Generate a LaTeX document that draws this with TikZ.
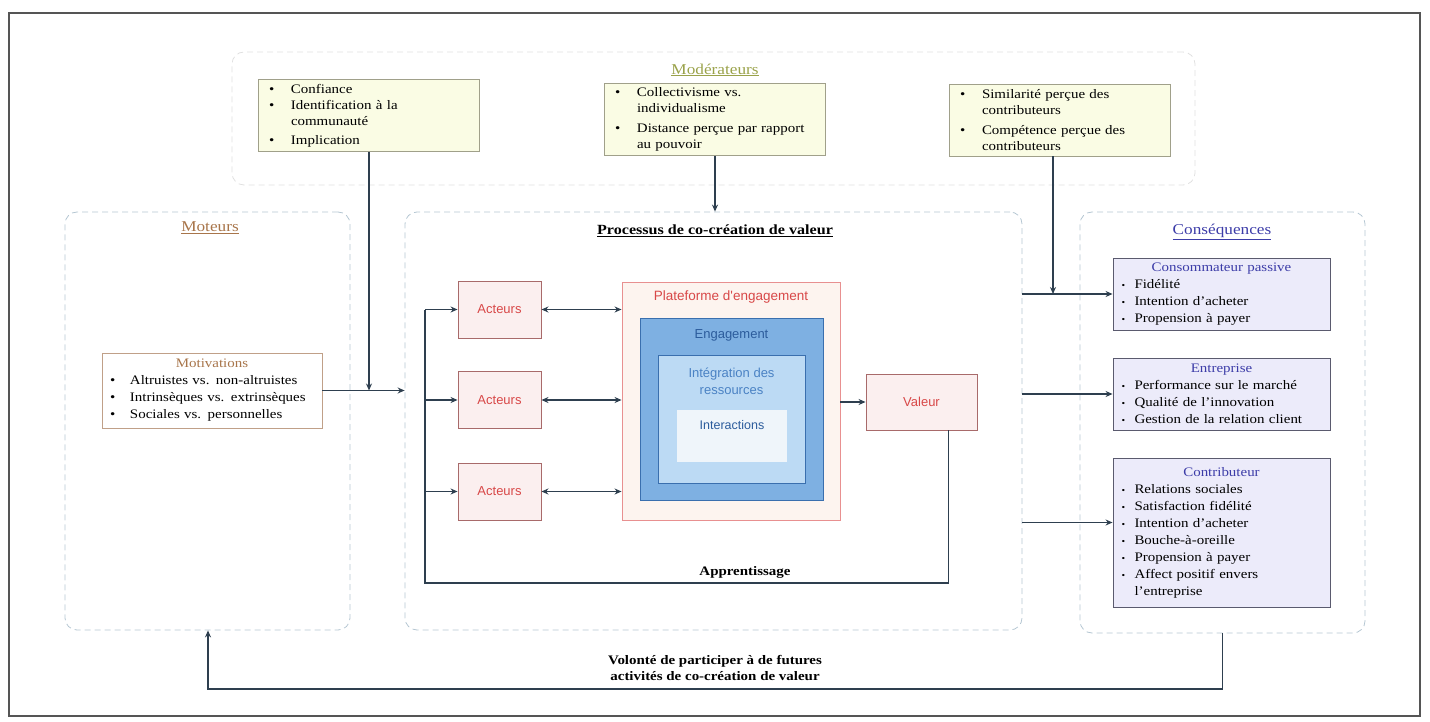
\documentclass[tikz,border=0pt]{standalone}
\usepackage{fontspec}
\setmainfont{Liberation Serif}[FakeStretch=1.15]
\newfontfamily\arialf{Liberation Sans}
\usetikzlibrary{arrows.meta,positioning}

\definecolor{framec}{HTML}{555555}
\definecolor{linkc}{HTML}{2E3F4F}
\definecolor{grpc}{HTML}{B4C6D2}
\definecolor{topgrpc}{HTML}{E0E0E0}
\definecolor{modfill}{HTML}{FAFCE4}
\definecolor{modline}{HTML}{A0A08A}
\definecolor{modtitle}{HTML}{9AA24A}
\definecolor{motc}{HTML}{A8754A}
\definecolor{motline}{HTML}{C0A088}
\definecolor{consc}{HTML}{3C3CA8}
\definecolor{consfill}{HTML}{ECEBFA}
\definecolor{consline}{HTML}{5A5A6E}
\definecolor{actfill}{HTML}{FBEFEF}
\definecolor{actline}{HTML}{A86A6A}
\definecolor{actc}{HTML}{D84848}
\definecolor{platfill}{HTML}{FDF4EF}
\definecolor{platline}{HTML}{E89090}
\definecolor{engfill}{HTML}{7EB0E2}
\definecolor{engline}{HTML}{3A6FAE}
\definecolor{engc}{HTML}{2C5C9C}
\definecolor{intfill}{HTML}{BCDAF4}
\definecolor{intc}{HTML}{4A82C4}
\definecolor{interfill}{HTML}{EFF5FA}

\newcommand{\blt}[1][22pt]{\makebox[#1][l]{\textbullet}}
\newcommand{\sblt}{\makebox[13pt][l]{\small\textbullet}}

\begin{document}
\begin{tikzpicture}[x=1pt,y=-1pt,
    grp/.style={draw=grpc,dash pattern=on 6pt off 4pt,rounded corners=12pt,line width=0.8pt},
    box/.style={inner sep=0pt,line width=0.9pt},
    modbox/.style={box,draw=modline,fill=modfill,minimum width=221pt,minimum height=72pt,text width=200pt,align=left,font=\fontsize{13}{16}\selectfont},
    motbox/.style={box,draw=motline,fill=white,minimum width=220pt,minimum height=75pt,text width=204pt,align=left,font=\fontsize{13}{17}\selectfont},
    consbox/.style={box,draw=consline,fill=consfill,minimum width=217pt,text width=200pt,align=left,font=\fontsize{13}{17}\selectfont},
    actbox/.style={box,draw=actline,fill=actfill,minimum width=83pt,minimum height=57pt,text=actc,font=\arialf\fontsize{13}{15}\selectfont},
    grptitle/.style={font=\fontsize{15}{18}\selectfont},
    wire/.style={draw=linkc,line width=1.4pt},
    link/.style={wire,-{Stealth[length=7pt,width=6pt]}},
    dlink/.style={wire,{Stealth[length=7pt,width=6pt]}-{Stealth[length=7pt,width=6pt]}},
  ]
  \useasboundingbox (0,0) rectangle (1430,722);
  \draw[framec,line width=1.4pt] (9,13) rectangle (1420,716);

  % groups
  \node[grp,draw=topgrpc,minimum width=963pt,minimum height=133pt] (modgrp) at (713.5,118.5) {};
  \node[grp,minimum width=285pt,minimum height=418pt] (mot) at (207.5,421) {};
  \node[grp,minimum width=617pt,minimum height=418pt] (proc) at (713.5,421) {};
  \node[grp,minimum width=285pt,minimum height=421pt] (cons) at (1222.5,422.5) {};

  % titles
  \node[grptitle,text=modtitle] (modtitle) at (715,70) {\underline{Modérateurs}};
  \node[grptitle,text=motc] (mottitle) at (210,228) {\underline{Moteurs}};
  \node[font=\bfseries\fontsize{14}{17}\selectfont] (proctitle) at (715,231) {\underline{Processus de co-création de valeur}};
  \node[grptitle,text=consc] (constitle) at (1222,232) {\underline{Conséquences}};

  % moderators
  \node[modbox] (modl) at (369,115.5) {\blt Confiance\\ \blt Identification à la\\ \hspace*{22pt}communauté\\[3pt] \blt Implication};
  \node[modbox] (modm) at (715,119.5) {\blt Collectivisme vs.\\ \hspace*{22pt}individualisme\\[4pt] \blt Distance perçue par rapport\\ \hspace*{22pt}au pouvoir};
  \node[modbox] (modr) at (1060,120) {\blt Similarité perçue des\\ \hspace*{22pt}contributeurs\\[4pt] \blt Compétence perçue des\\ \hspace*{22pt}contributeurs};

  % drivers
  \node[motbox] (motiv) at (212,390.5) {\makebox[\linewidth]{\color{motc}Motivations}\\ \blt[20pt]Altruistes vs. non-altruistes\\ \blt[20pt]Intrinsèques vs. extrinsèques\\ \blt[20pt]Sociales vs. personnelles};

  % process
  \node[actbox] (act1) at (499.5,309.5) {Acteurs};
  \node[actbox] (act2) at (499.5,400) {Acteurs};
  \node[actbox] (act3) at (499.5,491.5) {Acteurs};
  \node[box,draw=platline,fill=platfill,minimum width=218pt,minimum height=238pt] (plat) at (731,401) {};
  \node[box,draw=engline,fill=engfill,minimum width=183pt,minimum height=182pt] (eng) at (731.5,409) {};
  \node[box,draw=engline,fill=intfill,minimum width=147pt,minimum height=128pt] (integ) at (731.5,419) {};
  \node[box,fill=interfill,minimum width=110pt,minimum height=52pt] (inter) at (732,436) {};
  \node[text=actc,font=\arialf\fontsize{13.5}{15}\selectfont] (plattxt) at (731,297) {Plateforme d'engagement};
  \node[text=engc,font=\arialf\fontsize{13}{15}\selectfont] (engtxt) at (731.5,335) {Engagement};
  \node[text=intc,align=center,font=\arialf\fontsize{13}{17}\selectfont] (integtxt) at (731.5,381) {Intégration des\\ressources};
  \node[text=engc,font=\arialf\fontsize{12.5}{15}\selectfont] (intertxt) at (732,425) {Interactions};
  \node[actbox,minimum width=111pt,minimum height=56pt] (val) at (921.5,402) {Valeur};
  \node[font=\bfseries\fontsize{13}{16}\selectfont] (appr) at (745,572) {Apprentissage};

  % consequences
  \node[consbox,minimum height=72pt] (cons1) at (1221.5,294) {\makebox[\linewidth]{\color{consc}Consommateur passive}\\ \sblt Fidélité\\ \sblt Intention d'acheter\\ \sblt Propension à payer};
  \node[consbox,minimum height=72pt] (cons2) at (1221.5,394) {\makebox[\linewidth]{\color{consc}Entreprise}\\ \sblt Performance sur le marché\\ \sblt Qualité de l'innovation\\ \sblt Gestion de la relation client};
  \node[consbox,minimum height=149pt] (cons3) at (1221.5,532.5) {\makebox[\linewidth]{\color{consc}Contributeur}\\ \sblt Relations sociales\\ \sblt Satisfaction fidélité\\ \sblt Intention d'acheter\\ \sblt Bouche-à-oreille\\ \sblt Propension à payer\\ \sblt Affect positif envers\\ \hspace*{13pt}l'entreprise};

  \node[align=center,font=\bfseries\fontsize{13}{16}\selectfont] (futur) at (715,668) {Volonté de participer à de futures\\activités de co-création de valeur};

  % junctions
  \coordinate (jl) at (modl.south |- motiv.east);
  \coordinate (jr) at ([xshift=-7pt]modr.south |- cons1.west);
  \coordinate (lb) at (425,583);
  \coordinate (lt) at (lb |- act1.west);
  \coordinate (bl) at (208,689);
  \coordinate (br) at (cons.south |- bl);

  % edges
  \draw[link] (modl.south) -- (jl);
  \draw[link] (modm.south) -- (modm.south |- proc.north);
  \draw[link] ([xshift=-7pt]modr.south) -- (jr);
  \draw[link] (motiv.east) -- (motiv.east -| proc.west);
  \draw[dlink] (act1.east) -- (act1.east -| plat.west);
  \draw[dlink] (act2.east) -- (act2.east -| plat.west);
  \draw[dlink] (act3.east) -- (act3.east -| plat.west);
  \draw[link] (plat.east |- val.west) -- (val.west);
  \draw[wire] ([xshift=27pt]val.south) |- (lb) -- (lt);
  \draw[link] (lt) -- (act1.west);
  \draw[link] (act2.west -| lb) -- (act2.west);
  \draw[link] (act3.west -| lb) -- (act3.west);
  \draw[link] (cons1.west -| proc.east) -- (cons1.west);
  \draw[link] (cons2.west -| proc.east) -- (cons2.west);
  \draw[link] ([yshift=10pt]cons3.west -| proc.east) -- ([yshift=10pt]cons3.west);
  \draw[link] (cons.south) -- (br) -- (bl) -- (bl |- mot.south);
\end{tikzpicture}
\end{document}
